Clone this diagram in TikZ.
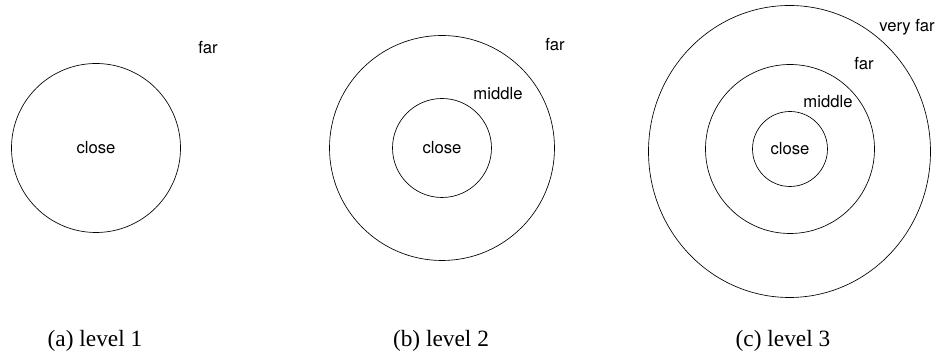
\documentclass[tikz,border=0pt]{standalone}
\usepackage{fontspec}
\setmainfont{Liberation Serif}
\setsansfont{TeX Gyre Heros}
\usetikzlibrary{shapes.geometric}

\begin{document}
\begin{tikzpicture}[x=0.6pt, y=-0.6pt,
		ring/.style={draw, circle, inner sep=0pt, font=\sffamily\fontsize{10}{12}\selectfont},
		zone/.style={inner sep=0pt, font=\sffamily\fontsize{10}{12}\selectfont},
		subcap/.style={inner sep=0pt, anchor=base, font=\fontsize{14}{16}\selectfont}]
		\useasboundingbox (0,0) rectangle (937,356);
		% level 1
		\node[ring, minimum size=101.4pt] (l1_close) at (96,148) {close};
		\node[zone] (l1_far) at (208,48) {far};
		\node[subcap] (l1_cap) at (95,347) {(a) level 1};
		% level 2
		\node[ring, minimum size=135pt] (l2_middle) at (442,148) {};
		\node[ring, minimum size=59.4pt] (l2_close) at (442,148) {close};
		\node[zone] (l2_mid) at (498,94) {middle};
		\node[zone] (l2_far) at (555,45) {far};
		\node[subcap] (l2_cap) at (441,347) {(b) level 2};
		% level 3
		\node[draw, ellipse, inner sep=0pt, minimum width=169.2pt, minimum height=175.2pt] (l3_far) at (789.5,151.5) {};
		\node[ring, minimum size=101.4pt] (l3_middle) at (790,149) {};
		\node[ring, minimum size=45pt] (l3_close) at (790,149) {close};
		\node[zone] (l3_mid) at (828,102) {middle};
		\node[zone] (l3_farlbl) at (864,64) {far};
		\node[zone] (l3_veryfar) at (907,27) {very far};
		\node[subcap] (l3_cap) at (783,347) {(c) level 3};
	\end{tikzpicture}
\end{document}
